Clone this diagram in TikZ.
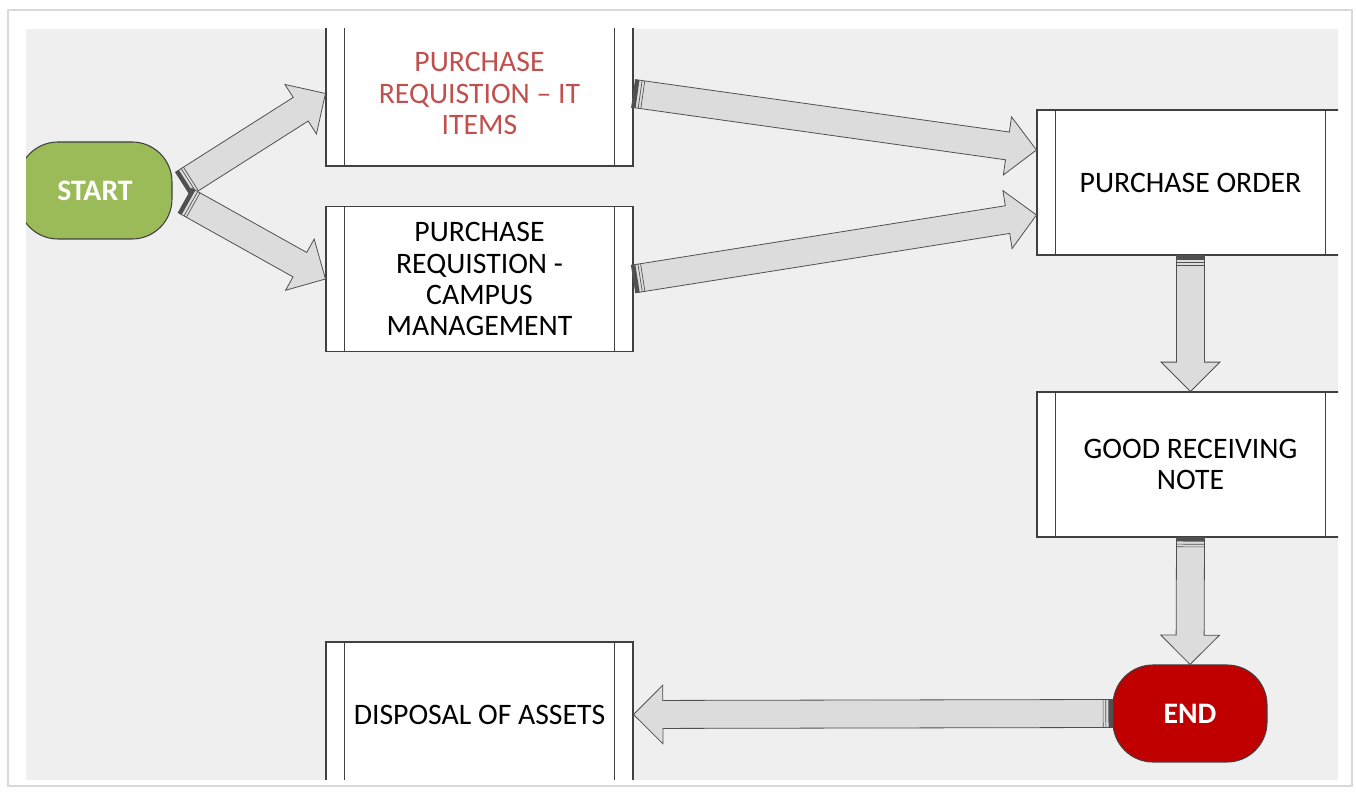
\documentclass[tikz,border=0pt]{standalone}
\usepackage{fontspec}
\setmainfont{Carlito}
\usepackage{xcolor}
\usetikzlibrary{calc, positioning}

\definecolor{bggrey}{HTML}{EFEFEF}
\definecolor{frame}{HTML}{D9D9D9}
\definecolor{arrowfill}{HTML}{DCDCDC}
\definecolor{arrowedge}{HTML}{505050}
\definecolor{boxedge}{HTML}{404040}
\definecolor{startgreen}{HTML}{9BBB59}
\definecolor{endred}{HTML}{C00000}
\definecolor{itred}{HTML}{C0504D}

% block arrow from #1 to #2 (named coordinates / anchors)
\newcommand{\fatarrow}[2]{%
  \coordinate (nk) at ($(#2)!22pt!(#1)$);
  \draw[fat] ($(#1)!10.5pt!90:(#2)$) -- ($(nk)!10.5pt!90:(#2)$) -- ($(nk)!22pt!90:(#2)$) -- (#2)
    -- ($(nk)!22pt!-90:(#2)$) -- ($(nk)!10.5pt!-90:(#2)$) -- ($(#1)!10.5pt!-90:(#2)$) -- cycle;
  \coordinate (tl) at ($(#1)!3pt!(#2)$);
  \fill[arrowedge] ($(#1)!10.5pt!90:(#2)$) -- ($(tl)!10.5pt!90:(#2)$) -- ($(tl)!10.5pt!-90:(#2)$) -- ($(#1)!10.5pt!-90:(#2)$) -- cycle;
  \foreach \d in {5pt,7pt} {
    \coordinate (tl) at ($(#1)!\d!(#2)$);
    \draw[arrowedge, line width=0.5pt] ($(tl)!10.5pt!90:(#2)$) -- ($(tl)!10.5pt!-90:(#2)$);
  }%
}

\begin{document}
\begin{tikzpicture}[x=0.75pt, y=0.75pt]
		\tikzstyle{procbox} = [draw=boxedge, line width=0.8pt, fill=white, rectangle, minimum width=230.25pt, minimum height=108.75pt, align=center, font=\fontsize{22.3}{23.3}\selectfont]
		\tikzstyle{boxline} = [draw=boxedge, line width=0.8pt]
		\tikzstyle{terminal} = [draw=boxedge, line width=0.8pt, rectangle, rounded corners=30pt, minimum width=115.5pt, minimum height=72.75pt, text=white, font=\fontsize{22.3}{23.3}\selectfont\bfseries]
		\tikzstyle{fat} = [draw=arrowedge, fill=arrowfill, line width=0.6pt, line join=miter]

		\useasboundingbox (0,0) rectangle (1356,792);
		\draw[frame, line width=0.8pt] (8,6) rectangle (1352,782);
		\fill[bggrey] (26,12) rectangle (1338,763);

		\begin{scope}
		\clip (26,12) rectangle (1338,763);

		\node[terminal, fill=startgreen] at (95, 601.5)   (start)  {START};
		\node[terminal, fill=endred]     at (1190, 78.5)  (end)    {END};

		\node[procbox, text=itred] at (479.5, 698.5)  (it)     {PURCHASE\\REQUISTION -- IT\\ITEMS};
		\node[procbox]             at (479.5, 513)    (campus) {PURCHASE\\REQUISTION -\\CAMPUS\\MANAGEMENT};
		\node[procbox]             at (1190.5, 609.5) (po)     {PURCHASE ORDER};
		\node[procbox]             at (1190.5, 327.5) (grn)    {GOOD RECEIVING\\NOTE};
		\node[procbox]             at (479.5, 77.5)   (disp)   {DISPOSAL OF ASSETS};

		\foreach \b in {it, campus, po, grn, disp} {
			\draw[boxline] ([xshift=14.25pt]\b.north west) -- ([xshift=14.25pt]\b.south west);
			\draw[boxline] ([xshift=-14.25pt]\b.north east) -- ([xshift=-14.25pt]\b.south east);
		}

		\coordinate (s1)  at ($(start.east)+(10.5,6.5)$);
		\coordinate (s2)  at ($(start.east)+(12.5,-10)$);
		\coordinate (po1) at ($(po.west)+(0,32.5)$);
		\coordinate (po2) at ($(po.west)+(0,-32.5)$);

		\fatarrow{s1}{it.west}
		\fatarrow{s2}{campus.west}
		\fatarrow{it.east}{po1}
		\fatarrow{campus.east}{po2}
		\fatarrow{po.south}{grn.north}
		\fatarrow{grn.south}{end.north}
		\fatarrow{end.west}{disp.east}
		\end{scope}
	\end{tikzpicture}
\end{document}
